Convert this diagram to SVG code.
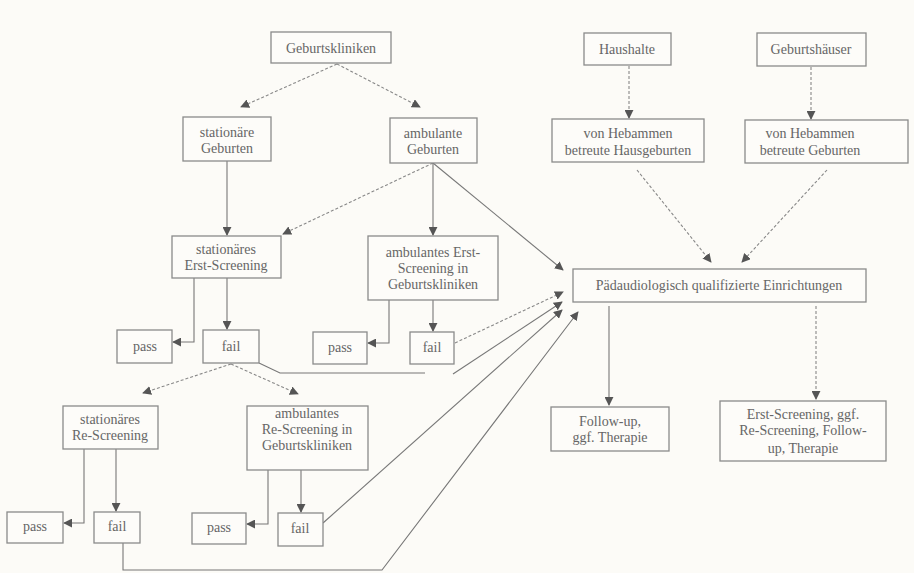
<svg xmlns="http://www.w3.org/2000/svg" width="914" height="573" viewBox="0 0 914 573">
<defs>
<marker id="ah" viewBox="0 0 10 10" refX="9" refY="5" markerWidth="9" markerHeight="9" markerUnits="userSpaceOnUse" orient="auto">
<path d="M0,0 L10,5 L0,10 z" fill="#555"/>
</marker>
<style>
rect{fill:#fdfcf9;stroke:#8a8a8a;stroke-width:1.3}
text{font-size:14px;fill:#666;text-anchor:middle}
.s{fill:none;stroke:#777;stroke-width:1.1}
.d{fill:none;stroke:#888;stroke-width:1.1;stroke-dasharray:3,2}
.a{marker-end:url(#ah)}
</style>
</defs>
<rect x="0" y="0" width="914" height="573" style="fill:#fcfbf7;stroke:none"/>
<g id="connectors">
<line class="d a" x1="337" y1="64" x2="241" y2="107"/>
<line class="d a" x1="337" y1="64" x2="420" y2="107"/>
<line class="d a" x1="629" y1="66" x2="629" y2="118"/>
<line class="d a" x1="811" y1="67" x2="811" y2="119"/>
<line class="d a" x1="637" y1="170" x2="711" y2="262"/>
<line class="d a" x1="827" y1="170" x2="742" y2="262"/>
<line class="s a" x1="227" y1="161" x2="227" y2="235"/>
<line class="d a" x1="433" y1="163" x2="283" y2="234"/>
<line class="s a" x1="433" y1="163" x2="433" y2="235"/>
<line class="s a" x1="433" y1="163" x2="563" y2="270"/>
<polyline class="s a" points="194,278 194,342 173,342"/>
<line class="s a" x1="227" y1="278" x2="227" y2="329"/>
<polyline class="s a" points="389,300 389,343 368,343"/>
<line class="s a" x1="433" y1="300" x2="433" y2="331"/>
<line class="d a" x1="455" y1="343" x2="563" y2="292"/>
<polyline class="s" points="259,363 280,373 425,373"/>
<line class="s a" x1="453" y1="374" x2="562" y2="302"/>
<line class="d a" x1="231" y1="364" x2="143" y2="393"/>
<line class="d a" x1="231" y1="364" x2="298" y2="394"/>
<line class="s a" x1="609" y1="306" x2="609" y2="405"/>
<line class="d a" x1="816" y1="306" x2="816" y2="399"/>
<polyline class="s a" points="84,449 84,523 64,523"/>
<line class="s a" x1="116" y1="449" x2="116" y2="511"/>
<polyline class="s a" points="268,470 268,524 247,524"/>
<line class="s a" x1="301" y1="470" x2="301" y2="512"/>
<line class="s a" x1="323" y1="523" x2="562" y2="310"/>
<polyline class="s a" points="123,543 123,570 382,570 578,312"/>
</g>
<g font-family="'Liberation Serif', 'DejaVu Serif', 'Times New Roman', serif">
<g id="geburtskliniken"><rect x="271" y="32" width="120" height="31"/><text x="331" y="53">Geburtskliniken</text></g>
<g id="haushalte"><rect x="584" y="33" width="87" height="32"/><text x="627" y="54">Haushalte</text></g>
<g id="geburtshaeuser"><rect x="757" y="33" width="109" height="33"/><text x="811" y="54">Geburtshäuser</text></g>
<g id="stationaere-geburten"><rect x="183" y="117" width="88" height="44"/><text x="227" y="137">stationäre</text><text x="227" y="153">Geburten</text></g>
<g id="ambulante-geburten"><rect x="390" y="118" width="87" height="45"/><text x="433" y="138">ambulante</text><text x="433" y="154">Geburten</text></g>
<g id="hausgeburten"><rect x="552" y="119" width="152" height="43"/><text x="628" y="138">von Hebammen</text><text x="628" y="155">betreute Hausgeburten</text></g>
<g id="betreute-geburten"><rect x="745" y="120" width="163" height="43"/><text x="810" y="138">von Hebammen</text><text x="810" y="155">betreute Geburten</text></g>
<g id="paedaudiologie"><rect x="573" y="269" width="293" height="33"/><text x="719" y="290">Pädaudiologisch qualifizierte Einrichtungen</text></g>
<g id="stat-erst"><rect x="172" y="236" width="109" height="42"/><text x="226" y="254">stationäres</text><text x="226" y="270">Erst-Screening</text></g>
<g id="amb-erst"><rect x="368" y="236" width="130" height="64"/><text x="433" y="257">ambulantes Erst-</text><text x="433" y="273">Screening in</text><text x="433" y="289">Geburtskliniken</text></g>
<g id="pass1"><rect x="117" y="330" width="55" height="33"/><text x="145" y="351">pass</text></g>
<g id="fail1"><rect x="203" y="330" width="56" height="33"/><text x="231" y="351">fail</text></g>
<g id="pass2"><rect x="313" y="332" width="54" height="32"/><text x="340" y="352">pass</text></g>
<g id="fail2"><rect x="410" y="332" width="44" height="32"/><text x="432" y="352">fail</text></g>
<g id="follow-up"><rect x="551" y="407" width="118" height="44"/><text x="610" y="426">Follow-up,</text><text x="610" y="442">ggf. Therapie</text></g>
<g id="erst-re-follow"><rect x="720" y="401" width="166" height="60"/><text x="803" y="419">Erst-Screening, ggf.</text><text x="803" y="435">Re-Screening, Follow-</text><text x="803" y="453">up, Therapie</text></g>
<g id="stat-re"><rect x="63" y="406" width="95" height="43"/><text x="110" y="424">stationäres</text><text x="110" y="440">Re-Screening</text></g>
<g id="amb-re"><rect x="247" y="406" width="121" height="64"/><text x="307" y="418">ambulantes</text><text x="307" y="434">Re-Screening in</text><text x="307" y="450">Geburtskliniken</text></g>
<g id="pass3"><rect x="7" y="512" width="56" height="31"/><text x="35" y="531">pass</text></g>
<g id="fail3"><rect x="94" y="512" width="46" height="31"/><text x="117" y="531">fail</text></g>
<g id="pass4"><rect x="192" y="513" width="54" height="31"/><text x="219" y="532">pass</text></g>
<g id="fail4"><rect x="278" y="513" width="45" height="33"/><text x="300" y="533">fail</text></g>
</g>
</svg>
